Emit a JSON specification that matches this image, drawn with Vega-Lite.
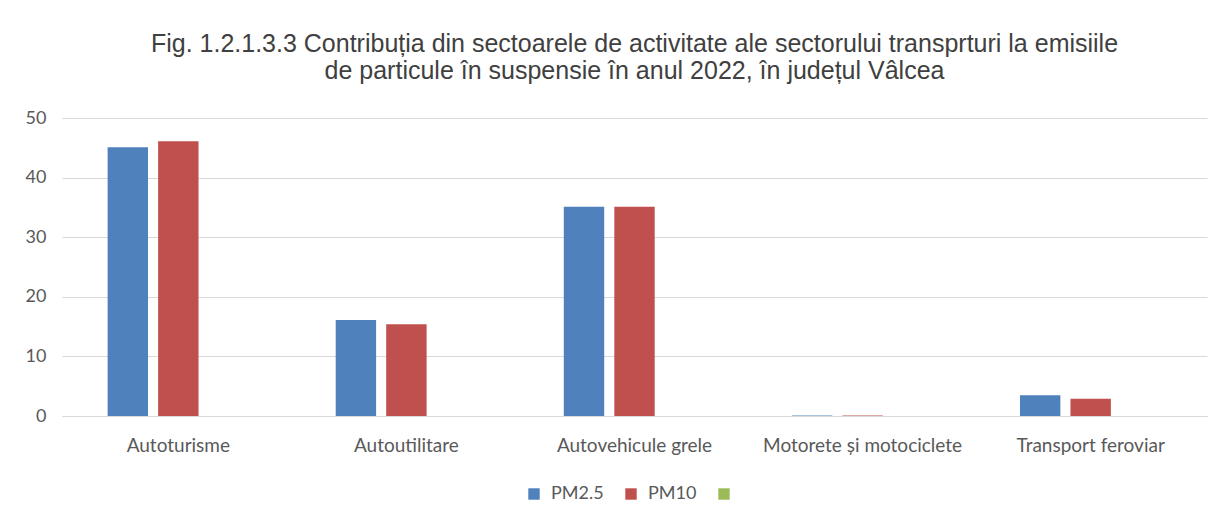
{
  "$schema": "https://vega.github.io/schema/vega-lite/v6.json",
  "width": 1145,
  "height": 298,
  "autosize": {"type": "none"},
  "padding": {"left": 62, "top": 118, "right": 21, "bottom": 109},
  "background": "white",
  "title": {
    "text": ["Fig. 1.2.1.3.3 Contribuția  din sectoarele de activitate ale sectorului transprturi la emisiile", "de particule în suspensie în anul 2022, în județul  Vâlcea"],
    "frame": "group",
    "anchor": "middle",
    "font": "Liberation Sans",
    "fontSize": 25,
    "fontWeight": "normal",
    "color": "#404040",
    "lineHeight": 27,
    "offset": 25
  },
  "data": {
    "values": [
      {"sector": "Autoturisme", "serie": "PM2.5", "valoare": 45.1},
      {"sector": "Autoturisme", "serie": "PM10", "valoare": 46.1},
      {"sector": "Autoturisme", "serie": " ", "valoare": 0},
      {"sector": "Autoutilitare", "serie": "PM2.5", "valoare": 16.1},
      {"sector": "Autoutilitare", "serie": "PM10", "valoare": 15.4},
      {"sector": "Autoutilitare", "serie": " ", "valoare": 0},
      {"sector": "Autovehicule grele", "serie": "PM2.5", "valoare": 35.1},
      {"sector": "Autovehicule grele", "serie": "PM10", "valoare": 35.1},
      {"sector": "Autovehicule grele", "serie": " ", "valoare": 0},
      {"sector": "Motorete și motociclete", "serie": "PM2.5", "valoare": 0.1},
      {"sector": "Motorete și motociclete", "serie": "PM10", "valoare": 0.1},
      {"sector": "Motorete și motociclete", "serie": " ", "valoare": 0},
      {"sector": "Transport feroviar", "serie": "PM2.5", "valoare": 3.5},
      {"sector": "Transport feroviar", "serie": "PM10", "valoare": 2.9},
      {"sector": "Transport feroviar", "serie": " ", "valoare": 0}
    ]
  },
  "mark": {"type": "bar"},
  "encoding": {
    "x": {
      "field": "sector",
      "type": "nominal",
      "sort": null,
      "title": null,
      "scale": {"paddingInner": 0.38, "paddingOuter": 0.2},
      "axis": {
        "labelAngle": 0,
        "ticks": false,
        "domain": true,
        "domainColor": "#d9d9d9",
        "domainWidth": 1,
        "labelPadding": 20,
        "labelLimit": 0,
        "labelFont": "Lato",
        "labelFontSize": 19,
        "labelColor": "#595959"
      }
    },
    "xOffset": {
      "field": "serie",
      "type": "nominal",
      "sort": ["PM2.5", "PM10", " "],
      "scale": {"paddingInner": 0.2, "paddingOuter": 0}
    },
    "y": {
      "field": "valoare",
      "type": "quantitative",
      "title": null,
      "scale": {"domain": [0, 50], "nice": false},
      "axis": {
        "values": [0, 10, 20, 30, 40, 50],
        "grid": true,
        "gridColor": "#d9d9d9",
        "gridWidth": 1,
        "domain": false,
        "ticks": false,
        "labelPadding": 16,
        "labelFont": "Lato",
        "labelFontSize": 18,
        "labelColor": "#595959"
      }
    },
    "color": {
      "field": "serie",
      "type": "nominal",
      "sort": ["PM2.5", "PM10", " "],
      "scale": {"domain": ["PM2.5", "PM10", " "], "range": ["#4f81bd", "#c0504d", "#9bbb59"]},
      "legend": {
        "title": null,
        "orient": "none",
        "direction": "horizontal",
        "legendX": 463,
        "legendY": 367,
        "symbolType": "square",
        "symbolSize": 130,
        "symbolStrokeWidth": 0,
        "labelFont": "Lato",
        "labelFontSize": 18,
        "labelColor": "#595959",
        "columnPadding": 18,
        "labelOffset": 8
      }
    }
  },
  "config": {
    "view": {"stroke": null}
  }
}
